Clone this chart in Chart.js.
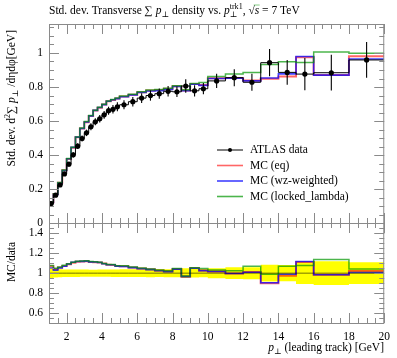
<!DOCTYPE html>
<html>
<head>
<meta charset="utf-8">
<title>Std. dev. transverse sum pT density</title>
<script src="https://cdn.jsdelivr.net/npm/chart.js@4/dist/chart.umd.min.js"></script>
<style>
    body { margin: 0; background: #fff; }
    canvas { display: block; }
</style>
</head>
<body>
<canvas id="plot" width="397" height="358"></canvas>
<script>
// bin edges, leading track pT [GeV]
const binEdges = [1, 1.25, 1.5, 1.75, 2, 2.25, 2.5, 2.75, 3, 3.25, 3.5, 3.75, 4, 4.25, 4.5, 4.75, 5,
    5.5, 6, 6.5, 7, 7.5, 8, 8.5, 9, 9.5, 10, 11, 12, 13, 14, 15, 16, 18, 20];

// ATLAS data and its error
const atlasData = [0.116, 0.165, 0.225, 0.290, 0.347, 0.402, 0.453, 0.498, 0.531, 0.567, 0.596, 0.614,
    0.637, 0.661, 0.669, 0.684, 0.696, 0.714, 0.735, 0.750, 0.761, 0.775, 0.772, 0.806, 0.778, 0.790,
    0.836, 0.855, 0.828, 0.943, 0.886, 0.876, 0.884, 0.959];
const atlasErr = [0.006, 0.007, 0.009, 0.011, 0.013, 0.015, 0.017, 0.018, 0.019, 0.020, 0.021, 0.022,
    0.023, 0.024, 0.025, 0.026, 0.027, 0.028, 0.029, 0.030, 0.030, 0.031, 0.031, 0.040, 0.033, 0.033,
    0.042, 0.050, 0.050, 0.080, 0.072, 0.095, 0.105, 0.105];

// MC predictions
const mcEq = [0.124, 0.172, 0.238, 0.311, 0.378, 0.444, 0.505, 0.556, 0.594, 0.630, 0.662, 0.679,
    0.698, 0.716, 0.724, 0.733, 0.745, 0.755, 0.770, 0.779, 0.782, 0.790, 0.805, 0.780, 0.818, 0.812,
    0.851, 0.853, 0.838, 0.848, 0.862, 0.975, 0.870, 0.980];
const mcWz = [0.122, 0.170, 0.237, 0.310, 0.379, 0.446, 0.506, 0.557, 0.595, 0.631, 0.663, 0.680,
    0.697, 0.717, 0.725, 0.732, 0.743, 0.754, 0.768, 0.777, 0.779, 0.786, 0.803, 0.778, 0.816, 0.810,
    0.850, 0.852, 0.836, 0.853, 0.877, 0.979, 0.870, 0.965];
const mcLocked = [0.125, 0.173, 0.239, 0.313, 0.380, 0.446, 0.507, 0.559, 0.597, 0.633, 0.664, 0.681,
    0.699, 0.718, 0.727, 0.735, 0.748, 0.758, 0.773, 0.782, 0.786, 0.793, 0.808, 0.784, 0.821, 0.826,
    0.862, 0.876, 0.886, 0.932, 0.948, 0.944, 1.005, 0.998];

const xTickLabels = [2, 4, 6, 8, 10, 12, 14, 16, 18, 20];
const yTickLabels = [0, 0.2, 0.4, 0.6, 0.8, 1];
const ratioTickLabels = [0.6, 0.8, 1, 1.2, 1.4];
const legendLabels = ['ATLAS data', 'MC (eq)', 'MC (wz-weighted)', 'MC (locked_lambda)'];

const SERIF = '"Liberation Serif", "DejaVu Serif", serif';
const RED = 'rgba(255, 0, 0, 0.6)';
const BLUE = 'rgba(0, 0, 255, 0.75)';
const GREEN = 'rgba(0, 150, 0, 0.7)';
const FRAME = '#8a8a8a';

// histogram as step points: each value held from its lower edge, last edge closes it
const steps = vals => {
    const pts = vals.map((v, i) => ({ x: binEdges[i], y: v }));
    pts.push({ x: binEdges[vals.length], y: vals[vals.length - 1] });
    return pts;
};
const ratioOf = vals => vals.map((v, i) => v / atlasData[i]);
const centres = atlasData.map((v, i) => ({ x: (binEdges[i] + binEdges[i + 1]) / 2, y: v }));

const stepLine = (data, color, width, axis, order) => ({
    type: 'line', data, yAxisID: axis, borderColor: color, borderWidth: width,
    stepped: true, pointRadius: 0, fill: false, order
});

const font = (size, italic) => (italic ? 'italic ' : '') + size + 'px ' + SERIF;

// text made of pieces: italic, sup/sub (with optional text under a sup), overline
function drawRich(ctx, x, y, pieces, size, align) {
    const widthOf = p => {
        ctx.font = font(p.sup || p.sub ? size * 0.7 : size, p.it);
        let w = ctx.measureText(p.t).width;
        if (p.under) {
            ctx.font = font(size * 0.7);
            w = Math.max(w, ctx.measureText(p.under).width);
        }
        return w;
    };
    const total = pieces.reduce((s, p) => s + widthOf(p), 0);
    let cx = align === 'right' ? x - total : align === 'center' ? x - total / 2 : x;
    ctx.textAlign = 'left';
    ctx.textBaseline = 'alphabetic';
    pieces.forEach(p => {
        const w = widthOf(p);
        ctx.font = font(p.sup || p.sub ? size * 0.7 : size, p.it);
        const dy = p.sup ? -size * 0.4 : p.sub ? size * 0.25 : 0;
        ctx.fillText(p.t, cx, y + dy);
        if (p.under) {
            ctx.font = font(size * 0.7);
            ctx.fillText(p.under, cx, y + size * 0.25);
        }
        if (p.bar) {
            ctx.beginPath();
            ctx.lineWidth = 0.7;
            ctx.moveTo(cx - 1, y - size * 0.78);
            ctx.lineTo(cx + w + 0.5, y - size * 0.78);
            ctx.stroke();
        }
        cx += w;
    });
}

const rivetDecor = {
    id: 'rivetDecor',
    afterDatasetsDraw(chart) {
        const { ctx, scales } = chart;
        const x = scales.x, y = scales.y, r = scales.y2;
        ctx.save();

        // data error bars
        ctx.strokeStyle = '#000';
        ctx.lineWidth = 1.1;
        centres.forEach((c, i) => {
            const px = x.getPixelForValue(c.x);
            ctx.beginPath();
            ctx.moveTo(px, y.getPixelForValue(c.y - atlasErr[i]));
            ctx.lineTo(px, y.getPixelForValue(c.y + atlasErr[i]));
            ctx.stroke();
        });

        // frames and inner ticks
        ctx.strokeStyle = FRAME;
        ctx.lineWidth = 1;
        const panels = [[y, 0, 1.2, yTickLabels], [r, 0.5, 1.5, ratioTickLabels]];
        panels.forEach(([s, lo, hi, majors]) => {
            const top = Math.round(s.top), bot = Math.round(s.bottom);
            ctx.strokeRect(x.left + 0.5, top + 0.5, x.right - x.left - 1, bot - top);
            ctx.beginPath();
            for (let k = 2; k <= 40; k++) {
                const v = k / 2;
                const len = xTickLabels.includes(v) ? 10 : 5;
                const px = Math.round(x.getPixelForValue(v)) + 0.5;
                ctx.moveTo(px, top); ctx.lineTo(px, top + len);
                ctx.moveTo(px, bot); ctx.lineTo(px, bot - len);
            }
            for (let k = Math.round(lo * 20); k <= Math.round(hi * 20); k++) {
                const v = k / 20;
                const py = Math.round(s.getPixelForValue(v)) + 0.5;
                if (py < top || py > bot) continue;
                const len = majors.some(m => Math.abs(m - v) < 1e-6) ? 10 : 5;
                ctx.moveTo(x.left, py); ctx.lineTo(x.left + len, py);
                ctx.moveTo(x.right, py); ctx.lineTo(x.right - len, py);
            }
            ctx.stroke();
        });

        // legend
        ctx.fillStyle = '#000';
        const legendColors = ['#000', RED, BLUE, GREEN];
        legendLabels.forEach((label, i) => {
            const ly = 150 + i * 15.5;
            ctx.strokeStyle = legendColors[i];
            ctx.lineWidth = i === 0 ? 1 : 1.6;
            ctx.beginPath();
            ctx.moveTo(217, ly); ctx.lineTo(243, ly);
            ctx.stroke();
            if (i === 0) {
                ctx.beginPath();
                ctx.arc(230, ly, 2, 0, Math.PI * 2);
                ctx.fill();
            }
            ctx.font = font(11.5);
            ctx.textAlign = 'left';
            ctx.textBaseline = 'middle';
            ctx.fillText(label, 250, ly);
        });

        // title
        drawRich(ctx, 49, 14, [
            { t: 'Std. dev. Transverse \u2211 ' }, { t: 'p', it: true }, { t: '\u22a5', sub: true },
            { t: ' density vs. ' }, { t: 'p', it: true }, { t: 'trk1', sup: true, under: '\u22a5' },
            { t: ', \u221a' }, { t: 's', it: true, bar: true }, { t: ' = 7 TeV' }
        ], 11.5, 'left');

        // x axis title
        drawRich(ctx, 384, 351, [
            { t: 'p', it: true }, { t: '\u22a5', sub: true }, { t: ' (leading track) [GeV]' }
        ], 11.5, 'right');

        // y axis titles
        ctx.save();
        ctx.translate(15, 30);
        ctx.rotate(-Math.PI / 2);
        drawRich(ctx, 0, 0, [
            { t: 'Std. dev. d' }, { t: '2', sup: true }, { t: '\u2211 ' }, { t: 'p', it: true },
            { t: '\u22a5', sub: true }, { t: ' /d\u03b7d\u03c6[GeV]' }
        ], 11.5, 'right');
        ctx.restore();
        ctx.save();
        ctx.translate(15, 262);
        ctx.rotate(-Math.PI / 2);
        drawRich(ctx, 0, 0, [{ t: 'MC/data' }], 11.5, 'center');
        ctx.restore();

        ctx.restore();
    }
};

const bandLow = atlasData.map((v, i) => 1 - atlasErr[i] / v);
const bandHigh = atlasData.map((v, i) => 1 + atlasErr[i] / v);
const unity = atlasData.map(() => 1);

const tickFont = { family: SERIF, size: 11.5 };

new Chart(document.getElementById('plot'), {
    type: 'line',
    data: {
        datasets: [
            // main panel
            { type: 'scatter', data: centres, yAxisID: 'y', pointRadius: 2.6, pointBackgroundColor: '#000',
              pointBorderWidth: 0, showLine: false, order: 0 },
            stepLine(steps(atlasData), '#000', 1, 'y', 1),
            stepLine(steps(mcLocked), GREEN, 1.5, 'y', 2),
            stepLine(steps(mcWz), BLUE, 1.6, 'y', 3),
            stepLine(steps(mcEq), RED, 2, 'y', 4),
            // ratio panel
            stepLine(steps(unity), 'rgba(0,0,0,0.55)', 1, 'y2', 5),
            stepLine(steps(ratioOf(mcLocked)), GREEN, 1.5, 'y2', 6),
            stepLine(steps(ratioOf(mcWz)), BLUE, 1.6, 'y2', 7),
            stepLine(steps(ratioOf(mcEq)), RED, 2, 'y2', 8),
            stepLine(steps(bandLow), 'rgba(0,0,0,0)', 0, 'y2', 20),
            { ...stepLine(steps(bandHigh), 'rgba(0,0,0,0)', 0, 'y2', 19), fill: '-1', backgroundColor: '#ffff00' }
        ]
    },
    options: {
        responsive: false,
        animation: false,
        devicePixelRatio: 1,
        layout: { padding: { top: 24, right: 12, left: 0, bottom: 0 } },
        plugins: { legend: { display: false }, tooltip: { enabled: false } },
        scales: {
            x: {
                type: 'linear', min: 1, max: 20, position: 'bottom',
                grid: { display: false, drawTicks: false }, border: { display: false },
                afterBuildTicks: s => { s.ticks = xTickLabels.map(v => ({ value: v })); },
                afterFit: s => { s.height = 35; },
                ticks: { padding: 7, font: tickFont, color: '#000', maxRotation: 0, autoSkip: false }
            },
            y2: {
                type: 'linear', axis: 'y', position: 'left', min: 0.5, max: 1.5, stack: 'panels', stackWeight: 1,
                grid: { display: false, drawTicks: false }, border: { display: false },
                afterBuildTicks: s => { s.ticks = ratioTickLabels.map(v => ({ value: v })); },
                afterFit: s => { s.width = 49; },
                ticks: { padding: 6, font: tickFont, color: '#000', autoSkip: false, callback: v => String(v) }
            },
            y: {
                type: 'linear', axis: 'y', position: 'left', min: 0, max: 1.17, stack: 'panels', stackWeight: 2,
                grid: { display: false, drawTicks: false }, border: { display: false },
                afterBuildTicks: s => { s.ticks = yTickLabels.map(v => ({ value: v })); },
                afterFit: s => { s.width = 49; },
                ticks: { padding: 6, font: tickFont, color: '#000', autoSkip: false, callback: v => String(v) }
            }
        }
    },
    plugins: [rivetDecor]
});
</script>
</body>
</html>
